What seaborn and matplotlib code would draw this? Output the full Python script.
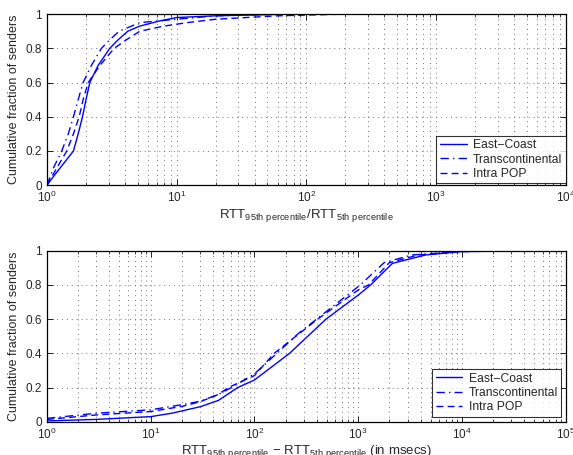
import numpy as np
import pandas as pd
import matplotlib
matplotlib.use("Agg")
import matplotlib.pyplot as plt
from matplotlib.ticker import LogLocator, FixedLocator, FuncFormatter, NullFormatter
import seaborn as sns

# ---- RTT ratio (95th / 5th percentile) CDFs ----
ratio_east_x = [1.0, 1.12, 1.26, 1.42, 1.6, 1.74, 1.88, 2.0, 2.14, 2.48, 3.05, 3.54, 4.2, 5.2, 7.4, 10, 20, 80, 200]
ratio_east_y = [0.0, 0.05, 0.10, 0.15, 0.20, 0.30, 0.40, 0.50, 0.60, 0.70, 0.80, 0.85, 0.90, 0.93, 0.96, 0.98, 0.99, 1.0, 1.0]
ratio_trans_x = [1.0, 1.12, 1.3, 1.46, 1.6, 1.74, 1.9, 2.2, 2.63, 3.05, 3.6, 5.2, 10, 20, 60, 200]
ratio_trans_y = [0.0, 0.10, 0.20, 0.30, 0.40, 0.50, 0.60, 0.70, 0.80, 0.85, 0.90, 0.95, 0.97, 0.99, 1.0, 1.0]
ratio_intra_x = [1.0, 1.19, 1.42, 1.6, 1.77, 1.9, 2.08, 2.56, 3.3, 4.1, 5.2, 8, 12, 20, 60, 200]
ratio_intra_y = [0.0, 0.10, 0.20, 0.30, 0.40, 0.50, 0.60, 0.70, 0.80, 0.85, 0.90, 0.93, 0.95, 0.97, 0.99, 1.0]

# ---- RTT difference (95th - 5th percentile, msecs) CDFs ----
diff_east_x = [1, 3, 10, 16, 30, 45, 69, 100, 218, 490, 1000, 1320, 2140, 4470, 10000, 50000]
diff_east_y = [0.005, 0.014, 0.03, 0.05, 0.088, 0.125, 0.20, 0.244, 0.40, 0.60, 0.74, 0.80, 0.926, 0.975, 0.995, 1.0]
diff_trans_x = [1, 3, 10, 20, 30, 45, 60, 100, 270, 1000, 1050, 1780, 3300, 10000, 50000]
diff_trans_y = [0.02, 0.05, 0.07, 0.10, 0.12, 0.16, 0.20, 0.28, 0.52, 0.79, 0.80, 0.93, 0.975, 0.996, 1.0]
diff_intra_x = [1, 3, 10, 20, 30, 45, 56, 100, 155, 407, 1000, 1260, 2000, 3800, 10000, 50000]
diff_intra_y = [0.014, 0.04, 0.06, 0.09, 0.117, 0.16, 0.20, 0.27, 0.40, 0.60, 0.77, 0.80, 0.93, 0.975, 0.995, 1.0]

series_names = ["East\u2212Coast", "Transcontinental", "Intra POP"]
y_ticks = [0, 0.2, 0.4, 0.6, 0.8, 1.0]


def long_frame(pairs):
    frames = []
    for name, (xs, ys) in zip(series_names, pairs):
        frames.append(pd.DataFrame({"x": xs, "y": ys, "series": name}))
    return pd.concat(frames, ignore_index=True)


ratio_df = long_frame([(ratio_east_x, ratio_east_y),
                       (ratio_trans_x, ratio_trans_y),
                       (ratio_intra_x, ratio_intra_y)])
diff_df = long_frame([(diff_east_x, diff_east_y),
                      (diff_trans_x, diff_trans_y),
                      (diff_intra_x, diff_intra_y)])

sns.set_style("white")
plt.rcParams["font.family"] = ["Liberation Sans", "DejaVu Sans"]
plt.rcParams["mathtext.fontset"] = "custom"
plt.rcParams["mathtext.rm"] = "Liberation Sans"
plt.rcParams["mathtext.default"] = "regular"

fig = plt.figure(figsize=(5.73, 4.55), dpi=100)
ax_top = fig.add_axes([0.082, 0.593, 0.905, 0.376])
ax_bot = fig.add_axes([0.082, 0.073, 0.905, 0.376])

palette = {n: "#0000ff" for n in series_names}
dashes = {series_names[0]: "", series_names[1]: (6, 3, 1, 3), series_names[2]: (5, 3)}
grid_style = dict(linestyle=(0, (1, 4)), color="0.45", linewidth=0.7)


def draw(ax, df, xmax, xlabel, legend_anchor):
    sns.lineplot(data=df, x="x", y="y", hue="series", style="series",
                 palette=palette, dashes=dashes, estimator=None, sort=False,
                 linewidth=1.0, ax=ax)
    ax.set_xscale("log")
    ax.set_xlim(1, xmax)
    ax.set_ylim(0, 1)
    ax.xaxis.set_major_locator(LogLocator(base=10, numticks=10))
    ax.xaxis.set_minor_locator(LogLocator(base=10, subs=np.arange(2, 10), numticks=50))
    ax.xaxis.set_minor_formatter(NullFormatter())
    ax.yaxis.set_major_locator(FixedLocator(y_ticks))
    ax.yaxis.set_major_formatter(FuncFormatter(lambda v, p: f"{v:g}"))
    ax.grid(True, which="major", axis="both", **grid_style)
    ax.grid(True, which="minor", axis="x", **grid_style)
    ax.tick_params(which="both", direction="in", top=True, right=True,
                   bottom=True, left=True, labelsize=8.5, color="black")
    ax.tick_params(which="major", length=4, width=0.6)
    ax.tick_params(which="minor", length=2, width=0.5)
    for s in ax.spines.values():
        s.set_visible(True)
        s.set_color("black")
        s.set_linewidth(0.9)
    ax.set_xlabel(xlabel, fontsize=9.5, labelpad=1)
    ax.set_ylabel("Cumulative fraction of senders", fontsize=9, labelpad=4)
    handles, labels = ax.get_legend_handles_labels()
    leg = ax.legend(handles, labels, loc="lower right", bbox_to_anchor=legend_anchor,
                    fontsize=8.7, frameon=True, fancybox=False, borderaxespad=0,
                    handlelength=2.2, handletextpad=0.5, labelspacing=0.18,
                    borderpad=0.3)
    leg.get_frame().set_edgecolor("black")
    leg.get_frame().set_linewidth(0.8)


draw(ax_top, ratio_df, 1e4,
     r"RTT$_{95th\ percentile}$/RTT$_{5th\ percentile}$", (1.0, 0.01))
draw(ax_bot, diff_df, 1e5,
     r"RTT$_{95th\ percentile}$ $-$ RTT$_{5th\ percentile}$ (in msecs)", (0.992, 0.03))

fig.savefig("out.png", dpi=100)
